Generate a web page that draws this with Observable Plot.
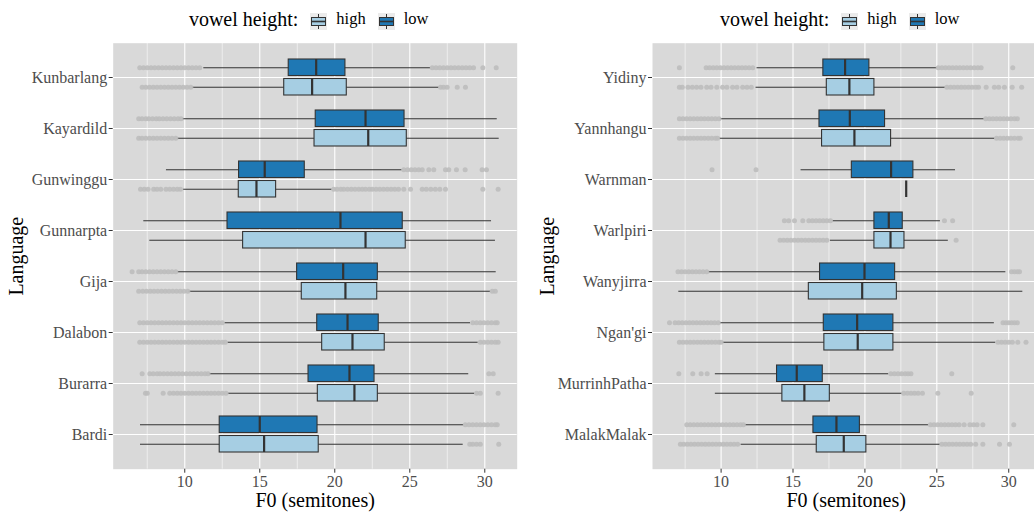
<!DOCTYPE html>
<html><head><meta charset="utf-8">
<script src="https://cdn.jsdelivr.net/npm/d3@7"></script>
<script src="https://cdn.jsdelivr.net/npm/@observablehq/plot@0.6"></script>
<style>
html,body{margin:0;padding:0;background:#fff;}
body{width:1034px;height:512px;overflow:hidden;position:relative;font-family:"Liberation Serif","Times New Roman",serif;}
.fig{position:absolute;top:0;height:512px;}
.legend{position:absolute;top:3px;height:32px;display:flex;align-items:center;justify-content:center;white-space:nowrap;color:#000;font-family:"Liberation Serif","Times New Roman",serif;}
.legend .title{font-size:20px;margin-right:12px;}
.legend .lab{font-size:16.5px;margin-left:9px;margin-right:12px;}
.legend svg{position:relative;top:2px;}
.plotwrap{position:absolute;top:34px;left:0;}
g[aria-label="x-axis label"], g[aria-label="y-axis label"]{font-size:20px;fill:#000;}
</style>
</head><body>
<div id="left" class="fig" style="left:0;width:520px"></div>
<div id="right" class="fig" style="left:520px;width:520px"></div>
<script>
// ---------- shared ----------
const xDomain = [5.23, 32.16];
const xTicks = [10, 15, 20, 25, 30];
const xMinorTicks = [7.5, 12.5, 17.5, 22.5, 27.5];
const vowelLevels = ["high", "low"];
const vowelColors = {high: "#a6cee3", low: "#1f78b4"};
const xLabel = "F0 (semitones)";
const yLabel = "Language";

// ---------- left panel ----------
const leftLanguages = ["Kunbarlang","Kayardild","Gunwinggu","Gunnarpta","Gija","Dalabon","Burarra","Bardi"];
// [whisker low, Q1, median, Q3, whisker high]
const leftLowStats = [
  [11.27,16.93,18.76,20.71,26.38],
  [9.87,18.73,22.05,24.65,30.83],
  [8.78,13.62,15.33,18.0,24.49],
  [7.27,12.85,20.38,24.53,30.45],
  [9.53,17.49,20.56,22.87,30.76],
  [12.67,18.83,20.85,22.93,29.05],
  [11.65,18.25,20.98,22.65,28.93],
  [7.05,12.33,15.0,18.85,28.6]
];
const leftHighStats = [
  [10.51,16.63,18.49,20.8,26.98],
  [9.53,18.65,22.23,24.8,30.96],
  [9.93,13.6,14.78,16.09,19.83],
  [7.67,13.89,22.05,24.73,30.71],
  [10.29,17.8,20.71,22.83,30.38],
  [12.87,19.16,21.18,23.33,29.56],
  [12.89,18.87,21.31,22.87,29.33],
  [7.05,12.33,15.29,18.93,28.56]
];
const leftLowOutliers = [
  [7.0,7.25,7.5,7.75,8.0,8.25,8.5,8.75,9.0,9.25,9.5,9.75,10.0,10.25,10.5,10.75,11.0,26.5,26.75,27.0,27.25,27.5,27.75,28.0,28.25,28.5,28.75,29.0,29.25,29.87,30.76],
  [6.93,7.15,7.4,7.6,7.85,8.1,8.3,8.55,8.8,9.05,9.3,9.55,9.75],
  [24.6,24.85,25.1,25.35,25.6,25.83,26.27,26.6,27.38,27.6,28.11,28.69,29.82,30.11],
  [],
  [6.49,6.93,7.15,7.4,7.65,7.9,8.15,8.4,8.65,8.9,9.15,9.4],
  [7.0,7.25,7.5,7.75,8.0,8.25,8.5,8.75,9.0,9.25,9.5,9.75,10.0,10.25,10.5,10.75,11.0,11.25,11.5,11.75,12.0,12.25,12.5,29.2,29.45,29.7,29.95,30.2,30.45,30.7,30.83],
  [7.16,7.67,7.9,8.16,8.35,8.6,8.85,9.1,9.35,9.6,9.85,10.1,10.35,10.6,10.85,11.1,11.35,11.55,30.27,30.56],
  [28.7,28.95,29.2,29.45,29.7,29.95,30.2,30.45,30.7,30.83]
];
const leftHighOutliers = [
  [7.16,7.4,7.65,7.9,8.15,8.4,8.65,8.9,9.15,9.4,9.65,9.9,10.15,10.4,27.05,27.25,27.49,28.16,28.71],
  [6.93,7.15,7.4,7.65,7.9,8.15,8.4,8.65,8.9,9.15,9.4],
  [7.05,7.3,7.55,7.93,8.15,8.4,8.75,9.0,9.25,9.5,9.71,19.93,20.15,20.4,20.6,20.85,21.1,21.35,21.6,21.83,22.05,22.3,22.5,22.75,23.0,23.25,23.5,23.75,24.0,24.25,24.6,25.05,25.83,26.1,26.4,26.7,27.0,27.38,29.87,30.89],
  [],
  [6.93,7.2,7.45,7.7,7.95,8.2,8.45,8.7,8.95,9.2,9.45,9.7,9.95,10.2,30.5,30.7],
  [7.0,7.25,7.5,7.75,8.0,8.25,8.5,8.75,9.0,9.25,9.5,9.75,10.0,10.25,10.5,10.75,11.0,11.25,11.5,11.75,12.0,12.25,12.5,12.7,29.7,29.95,30.2,30.45,30.7,30.89],
  [7.38,7.5,8.56,9.0,9.25,9.5,9.75,10.0,10.25,10.5,10.75,11.0,11.25,11.5,11.75,12.0,12.25,12.5,12.75,29.45,29.7,30.89],
  [29.0,29.2,29.45,29.7,30.93]
];

// ---------- right panel ----------
const rightLanguages = ["Yidiny","Yannhangu","Warnman","Warlpiri","Wanyjirra","Ngan'gi","MurrinhPatha","MalakMalak"];
const rightLowStats = [
  [12.5,17.11,18.62,20.31,25.02],
  [9.95,16.84,18.95,21.4,28.31],
  [15.56,19.09,21.82,23.37,26.3],
  [17.77,20.66,21.66,22.63,25.25],
  [9.14,16.88,19.97,22.1,29.8],
  [9.95,17.14,19.46,21.98,29.0],
  [9.6,13.89,15.26,17.07,21.66],
  [11.67,16.42,18.02,19.65,24.44]
];
const rightHighStats = [
  [12.43,17.35,18.92,20.66,25.6],
  [9.88,17.02,19.27,21.82,29.05],
  [22.87,22.87,22.87,22.87,22.87],
  [17.6,20.66,21.78,22.75,25.8],
  [7.06,16.1,19.81,22.22,30.98],
  [10.12,17.18,19.5,21.98,29.1],
  [9.6,14.26,15.79,17.56,22.59],
  [11.39,16.65,18.53,20.1,25.25]
];
const rightLowOutliers = [
  [7.1,8.96,9.2,9.45,9.7,9.95,10.2,10.45,10.7,10.95,11.2,11.45,11.7,11.95,12.2,25.1,25.35,25.6,25.85,26.1,26.35,26.6,26.85,27.1,27.35,27.6,27.85,28.08,30.28],
  [7.1,7.35,7.6,7.85,8.1,8.35,8.6,8.85,9.1,9.35,9.6,9.85,28.4,28.65,28.9,29.15,29.4,29.65,29.9,30.15,30.4,30.6],
  [9.37,12.43],
  [14.4,14.7,15.1,15.68,16.1,16.35,16.6,16.85,17.1,17.35,17.6,25.53,26.1],
  [7.0,7.25,7.5,7.75,8.0,8.25,8.5,8.75,9.0,30.2,30.4,30.6,30.75],
  [6.41,6.8,7.05,7.3,7.55,7.8,8.05,8.3,8.55,8.8,9.05,9.3,9.55,9.8,29.6,29.8,30.0,30.2,30.4,30.6],
  [7.06,8.03,8.61,9.03,21.8,22.05,22.3,22.55,22.8,23.0,23.2,26.04],
  [7.61,7.85,8.1,8.35,8.6,8.85,9.1,9.35,9.6,9.85,10.1,10.35,10.6,10.85,11.1,11.35,11.55,24.55,24.8,25.05,25.3,25.55,25.8,26.05,26.3,26.55,26.9,27.3,27.55,27.8,28.2,30.35]
];
const rightHighOutliers = [
  [7.1,7.3,7.7,8.0,8.3,8.6,9.0,9.3,9.7,10.1,10.4,10.8,11.1,11.5,11.8,12.1,25.7,25.95,26.2,26.45,26.7,26.95,27.2,27.45,27.7,27.9,28.43,29.0,29.3,29.7,30.24,30.9],
  [7.1,7.35,7.6,7.85,8.1,8.35,8.6,8.85,9.1,9.35,9.6,9.75,29.15,29.4,29.65,29.9,30.15,30.4,30.65,30.8],
  [],
  [14.1,14.35,14.6,14.85,15.1,15.35,15.6,15.85,16.1,16.35,16.6,16.85,17.1,17.35,26.34],
  [],
  [7.1,7.35,7.6,7.85,8.1,8.35,8.6,8.85,9.1,9.35,9.6,9.85,10.0,29.25,29.5,29.75,30.0,30.25,30.63,31.2],
  [22.7,22.95,23.2,23.45,23.7,24.0,25.07,27.39],
  [7.17,7.4,7.65,7.9,8.15,8.4,8.65,8.9,9.15,9.4,9.65,9.9,10.15,10.4,10.65,10.9,11.15,25.35,25.6,25.85,26.1,26.35,26.6,26.85,27.1,27.35,27.7,28.2,29.36,30.05]
];

// ---------- drawing ----------
const FONT = '"Liberation Serif","Times New Roman",serif';
const SVG_H = 478, M_TOP = 8.7, M_BOT = 43.3;

function buildRows(langs, stats, vowel) {
  return langs.map((lang, i) => ({lang, vowel, lo: stats[i][0], q1: stats[i][1], med: stats[i][2], q3: stats[i][3], hi: stats[i][4]}));
}
function buildOut(langs, outs, vowel) {
  return langs.flatMap((lang, i) => outs[i].map(x => ({lang, vowel, x})));
}

function legendKey(color) {
  return `<svg width="17" height="17" viewBox="0 0 17 17"><rect x="0" y="0" width="17" height="17" fill="#ebebeb"/>` +
    `<line x1="8.5" y1="1" x2="8.5" y2="16" stroke="#333" stroke-width="1"/>` +
    `<rect x="1.5" y="4.5" width="14" height="8" fill="${color}" stroke="#333" stroke-width="1"/>` +
    `<line x1="1.5" y1="8.5" x2="15.5" y2="8.5" stroke="#333" stroke-width="1.6"/></svg>`;
}

function makePanel(containerId, langs, lowStats, highStats, lowOut, highOut, mLeft, panelW, width, yLabelOffset) {
  const container = document.getElementById(containerId);
  const legend = document.createElement("div");
  legend.className = "legend";
  legend.style.left = mLeft + "px";
  legend.style.width = panelW + "px";
  legend.innerHTML = `<span class="title">vowel height:</span>` +
    vowelLevels.map(v => legendKey(vowelColors[v]) + `<span class="lab">${v}</span>`).join("");
  container.appendChild(legend);

  const lowRows = buildRows(langs, lowStats, "low");
  const highRows = buildRows(langs, highStats, "high");
  const lowPts = buildOut(langs, lowOut, "low");
  const highPts = buildOut(langs, highOut, "high");

  const step = (SVG_H - M_TOP - M_BOT) / 8.2;
  const half = step * 0.75 / 2;
  const quarter = half / 2;
  const pad = 1;

  const plot = Plot.plot({
    width, height: SVG_H,
    marginLeft: mLeft, marginRight: width - mLeft - panelW, marginTop: M_TOP, marginBottom: M_BOT,
    style: {fontFamily: FONT, background: "transparent", overflow: "visible"},
    x: {domain: xDomain},
    y: {type: "band", domain: langs, paddingInner: 0.25, paddingOuter: 0.225},
    marks: [
      Plot.frame({fill: "#d9d9d9", stroke: null}),
      Plot.ruleX(xMinorTicks, {stroke: "#ffffff", strokeWidth: 0.55}),
      Plot.ruleX(xTicks, {stroke: "#ffffff", strokeWidth: 1.1}),
      Plot.ruleY(langs, {y: d => d, stroke: "#ffffff", strokeWidth: 1.1}),
      // whiskers
      Plot.ruleY(lowRows, {y: "lang", x1: "lo", x2: "hi", dy: -quarter, stroke: "#333333", strokeWidth: 1}),
      Plot.ruleY(highRows, {y: "lang", x1: "lo", x2: "hi", dy: quarter, stroke: "#333333", strokeWidth: 1}),
      // outliers
      Plot.dot(lowPts, {x: "x", y: "lang", dy: -quarter, r: 2.5, fill: "#bdbdbd", fillOpacity: 0.9, stroke: null}),
      Plot.dot(highPts, {x: "x", y: "lang", dy: quarter, r: 2.5, fill: "#bdbdbd", fillOpacity: 0.9, stroke: null}),
      // boxes
      Plot.barX(lowRows, {y: "lang", x1: "q1", x2: "q3", insetTop: pad, insetBottom: half + pad, fill: vowelColors.low, stroke: "#333333", strokeWidth: 1.1}),
      Plot.barX(highRows, {y: "lang", x1: "q1", x2: "q3", insetTop: half + pad, insetBottom: pad, fill: vowelColors.high, stroke: "#333333", strokeWidth: 1.1}),
      // medians
      Plot.tickX(lowRows, {y: "lang", x: "med", insetTop: pad, insetBottom: half + pad, stroke: "#333333", strokeWidth: 2.2}),
      Plot.tickX(highRows, {y: "lang", x: "med", insetTop: half + pad, insetBottom: pad, stroke: "#333333", strokeWidth: 2.2}),
      // axes
      Plot.axisX({ticks: xTicks, tickSize: 4, tickPadding: 2, fontSize: 16, stroke: "#333333", fill: "#4d4d4d",
        label: xLabel, labelArrow: "none", labelAnchor: "center", labelOffset: 38}),
      Plot.axisY({tickSize: 4, tickPadding: 2, fontSize: 16, stroke: "#333333", fill: "#4d4d4d",
        label: yLabel, labelArrow: "none", labelAnchor: "center", labelOffset: yLabelOffset})
    ]
  });
  const wrap = document.createElement("div");
  wrap.className = "plotwrap";
  wrap.appendChild(plot);
  container.appendChild(wrap);
}

makePanel("left", leftLanguages, leftLowStats, leftHighStats, leftLowOutliers, leftHighOutliers, 112.7, 404, 520, 104);
makePanel("right", rightLanguages, rightLowStats, rightHighStats, rightLowOutliers, rightHighOutliers, 132, 387.3, 520, 113);
</script>
</body></html>
